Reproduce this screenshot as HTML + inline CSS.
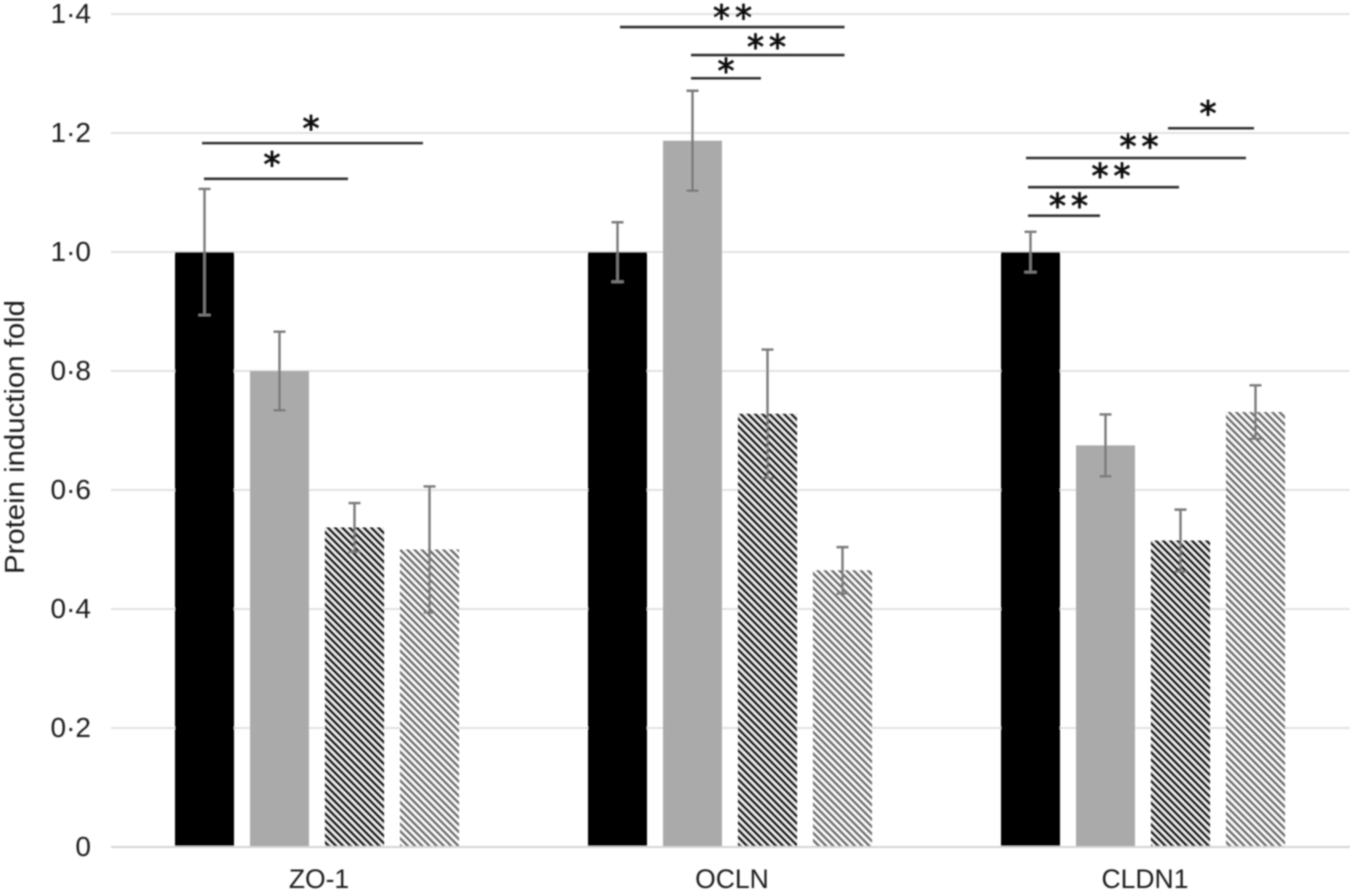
<!DOCTYPE html>
<html lang="en">
<head>
<meta charset="utf-8">
<title>Protein induction fold</title>
<style>
html,body{margin:0;padding:0;background:#fff;width:1350px;height:891px;overflow:hidden}
svg{display:block}
text{font-family:"Liberation Sans",sans-serif;fill:#1a1a1a}
</style>
</head>
<body>
<svg id="chart" xmlns="http://www.w3.org/2000/svg" width="1350" height="891" viewBox="0 0 1350 891">
  <defs>
    <filter id="soft" x="-2%" y="-2%" width="104%" height="104%"><feGaussianBlur stdDeviation="0.75"/></filter>
    <pattern id="hatch-dark" patternUnits="userSpaceOnUse" width="5.1" height="5.1" patternTransform="rotate(-45)">
      <rect width="5.1" height="5.1" fill="#fff"/>
      <rect width="3" height="5.1" fill="#000"/>
    </pattern>
    <pattern id="hatch-light" patternUnits="userSpaceOnUse" width="5.1" height="5.1" patternTransform="rotate(-45)">
      <rect width="5.1" height="5.1" fill="#fff"/>
      <rect width="2.6" height="5.1" fill="#666"/>
    </pattern>
  </defs>
  <g id="plot" filter="url(#soft)"></g>
</svg>
<script>
const categories = ['ZO-1', 'OCLN', 'CLDN1'];
const seriesA = [1.0, 1.0, 1.0];
const seriesB = [0.8, 1.187, 0.675];
const seriesC = [0.537, 0.728, 0.515];
const seriesD = [0.5, 0.465, 0.731];
const errorA = [0.106, 0.05, 0.034];
const errorB = [0.066, 0.084, 0.052];
const errorC = [0.041, 0.108, 0.052];
const errorD = [0.106, 0.039, 0.045];
const tickValues = [0, 0.2, 0.4, 0.6, 0.8, 1.0, 1.2, 1.4];
const tickLabels = ['0', '0·2', '0·4', '0·6', '0·8', '1·0', '1·2', '1·4'];
const axisTitle = 'Protein induction fold';

/* significance annotations: category index, span in bar slots, height in axis units */
const sigCategory = [0, 0, 1, 1, 1, 2, 2, 2, 2];
const sigFrom = [-1.533, -1.507, -1.467, -0.52, -0.52, 0.333, -1.56, -1.533, -1.533];
const sigTo = [1.413, 0.413, 1.527, 1.527, 0.413, 1.48, 1.373, 0.48, -0.573];
const sigLevel = [1.183, 1.123, 1.378, 1.331, 1.292, 1.208, 1.158, 1.109, 1.061];
const sigMark = ['*', '*', '**', '**', '*', '*', '**', '**', '**'];
const sigMarkAt = [-0.08, -0.6, 0.033, 0.487, -0.053, 0.867, -0.053, -0.427, -0.993];
const sigMarkLevel = [1.215, 1.155, 1.402, 1.352, 1.312, 1.24, 1.185, 1.135, 1.085];

const NS = 'http://www.w3.org/2000/svg';
const plot = document.getElementById('plot');
const y0 = 847, pxPerUnit = 595;
const groupCenter0 = 317, groupStep = 413, slotWidth = 75, barWidth = 59;
const yScale = v => y0 - v * pxPerUnit;
const xScale = (cat, slot) => groupCenter0 + cat * groupStep + slot * slotWidth;

function make(tag, attrs, text) {
  const el = document.createElementNS(NS, tag);
  for (const k in attrs) el.setAttribute(k, attrs[k]);
  if (text !== undefined) el.textContent = text;
  plot.appendChild(el);
  return el;
}

tickValues.forEach((v, i) => {
  const line = make('line', {x1: 111, x2: 1350, y1: yScale(v), y2: yScale(v), stroke: '#e2e2e2', 'stroke-width': 2});
  
  
  const label = make('text', {x: 91, y: yScale(v) + 9, 'text-anchor': 'end', 'font-size': 28}, tickLabels[i]);
  
  
});

const title = make('text', {transform: 'translate(24,437) rotate(-90)', 'text-anchor': 'middle', 'font-size': 28, textLength: 274, lengthAdjust: 'spacingAndGlyphs'}, axisTitle);



const allSeries = [seriesA, seriesB, seriesC, seriesD];
const allErrors = [errorA, errorB, errorC, errorD];
const seriesFill = ['#000', '#aaaaaa', 'url(#hatch-dark)', 'url(#hatch-light)'];

categories.forEach((name, c) => {
  allSeries.forEach((series, s) => {
    const slot = s - 1.5;
    const cx = xScale(c, slot);
    const bar = make('rect', {x: cx - barWidth / 2, y: yScale(series[c]), width: barWidth, height: y0 - yScale(series[c]), fill: seriesFill[s]});
    
    
  });
  allSeries.forEach((series, s) => {
    const cx = xScale(c, s - 1.5);
    const top = yScale(series[c] + allErrors[s][c]);
    const bottom = yScale(series[c] - allErrors[s][c]);
    const err = make('path', {d: `M${cx} ${top}V${bottom}M${cx - 6} ${top}H${cx + 6}M${cx - 6} ${bottom}H${cx + 6}`, fill: 'none', stroke: '#7a7a7a', 'stroke-width': 2.4});
    
    
  });
  const catLabel = make('text', {x: xScale(c, 0) + 2, y: 888, 'text-anchor': 'middle', 'font-size': 26.5}, name);
  
  
});

const baseline = make('line', {x1: 111, x2: 1350, y1: y0, y2: y0, stroke: '#d4d4d4', 'stroke-width': 2});



sigCategory.forEach((c, i) => {
  const y = yScale(sigLevel[i]);
  const line = make('line', {x1: xScale(c, sigFrom[i]), x2: xScale(c, sigTo[i]), y1: y, y2: y, stroke: '#333', 'stroke-width': 2.6});
  
  
  const mark = make('text', {x: xScale(c, sigMarkAt[i]) + 2.5, y: yScale(sigMarkLevel[i]) + 16, 'text-anchor': 'middle', 'font-size': 34, 'letter-spacing': 5, style: 'font-family:"DejaVu Sans",sans-serif;fill:#111;stroke:#111;stroke-width:0.9'}, sigMark[i]);
  
  
});
</script>
</body>
</html>
